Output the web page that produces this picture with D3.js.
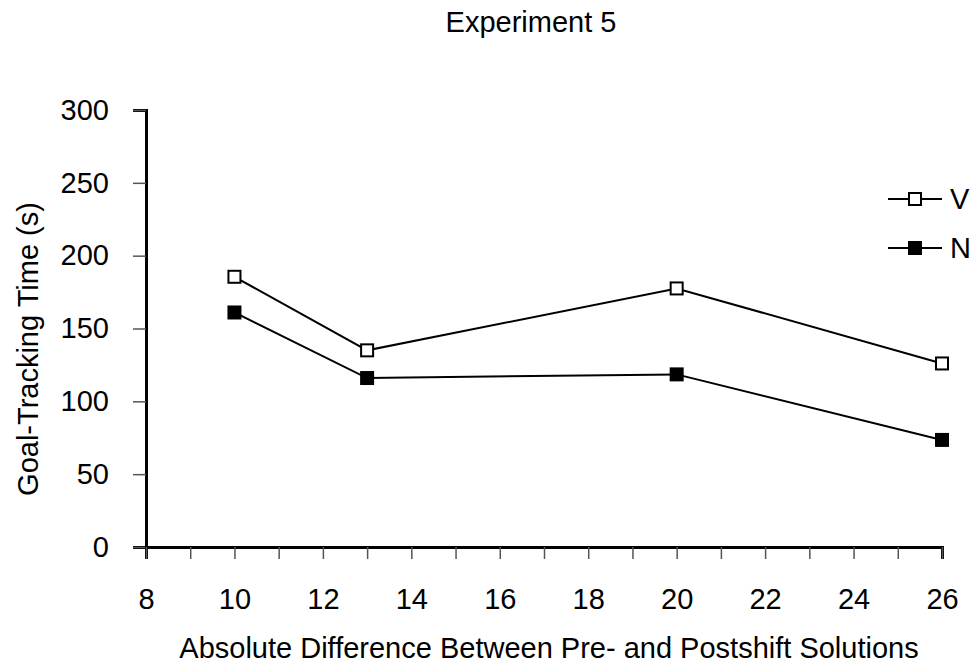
<!DOCTYPE html>
<html>
<head>
  <meta charset="UTF-8">
  <title>Experiment 5</title>
  <style>
    body { margin: 0; background: #fff; }
    svg text { font-family: "Liberation Sans", Arial, sans-serif; fill: #000; }
  </style>
</head>
<body>
  <div class="svg-zone"></div>
  <script src="https://cdn.jsdelivr.net/npm/d3@7/dist/d3.min.js"></script>
  <script type="text/javascript">
  // difference between pre- and postshift solutions
  const diffs = [10, 13, 20, 26];
  const valuesV = [185.5, 135, 177.5, 126];
  const valuesN = [161, 116, 118.5, 73.5];
  const seriesNames = ["V", "N"];
  const xTicks = [8, 10, 12, 14, 16, 18, 20, 22, 24, 26];
  const yTicks = [0, 50, 100, 150, 200, 250, 300];

  var width = 974,
    height = 665,
    fs = "29px";

  var x = d3.scaleLinear().domain([8, 26]).range([146, 942]);
  var y = d3.scaleLinear().domain([0, 300]).range([547, 110]);

  var svg = d3.select(".svg-zone").append("svg")
    .attr("width", width)
    .attr("height", height);

  // title
  svg.append("text")
    .attr("x", 531).attr("y", 32)
    .attr("text-anchor", "middle")
    .style("font-size", fs)
    .text("Experiment 5");

  // y axis
  let yAxis = d3.axisLeft(y).tickValues(yTicks).tickSize(13).tickPadding(24);
  let gy = svg.append("g")
    .attr("transform", "translate(" + x(8) + ",0)")
    .call(yAxis);
  gy.select(".domain").attr("stroke", "#000").attr("stroke-width", 3);
  gy.selectAll(".tick line").attr("stroke", "#555").attr("stroke-width", 1.5);
  gy.selectAll(".tick text").style("font-size", fs);

  // x axis (minor ticks every unit, labels every 2)
  let xAxis = d3.axisBottom(x).ticks(18).tickSize(12).tickPadding(29)
    .tickFormat(d => xTicks.includes(d) ? d : "");
  let gx = svg.append("g")
    .attr("transform", "translate(0," + y(0) + ")")
    .call(xAxis);
  gx.select(".domain").attr("stroke", "#000").attr("stroke-width", 3);
  gx.selectAll(".tick line").attr("stroke", "#555").attr("stroke-width", 1.5);
  gx.selectAll(".tick text").style("font-size", fs);

  // axis titles
  svg.append("text")
    .attr("x", 549).attr("y", 658)
    .attr("text-anchor", "middle")
    .style("font-size", fs)
    .text("Absolute Difference Between Pre- and Postshift Solutions");

  svg.append("text")
    .attr("transform", "translate(38," + 349 + ") rotate(-90)")
    .attr("text-anchor", "middle")
    .style("font-size", fs)
    .text("Goal-Tracking Time (s)");

  // series
  let series = [
    { name: seriesNames[0], values: valuesV, fill: "#fff" },
    { name: seriesNames[1], values: valuesN, fill: "#000" }
  ];

  let line = d3.line()
    .x(function (d) { return x(d[0]); })
    .y(function (d) { return y(d[1]); });

  let ms = 12;
  series.forEach(function (s) {
    let pts = diffs.map(function (d, i) { return [d, s.values[i]]; });
    svg.append("path")
      .datum(pts)
      .attr("d", line)
      .attr("fill", "none")
      .attr("stroke", "#000")
      .attr("stroke-width", 2);
    svg.append("g").selectAll("rect")
      .data(pts)
      .enter().append("rect")
      .attr("x", function (d) { return x(d[0]) - ms / 2; })
      .attr("y", function (d) { return y(d[1]) - ms / 2; })
      .attr("width", ms)
      .attr("height", ms)
      .attr("fill", s.fill)
      .attr("stroke", "#000")
      .attr("stroke-width", 2);
  });

  // legend
  let legend = svg.append("g").selectAll(".leg")
    .data(series)
    .enter().append("g")
    .attr("class", "leg")
    .attr("transform", function (d, i) { return "translate(888," + (199 + i * 49) + ")"; });
  legend.append("line")
    .attr("x1", 0).attr("x2", 54)
    .attr("stroke", "#000").attr("stroke-width", 2);
  legend.append("rect")
    .attr("x", 27 - ms / 2).attr("y", -ms / 2)
    .attr("width", ms).attr("height", ms)
    .attr("fill", function (d) { return d.fill; })
    .attr("stroke", "#000").attr("stroke-width", 2);
  legend.append("text")
    .attr("x", 62).attr("y", 10)
    .style("font-size", fs)
    .text(function (d) { return d.name; });
  </script>
</body>
</html>
